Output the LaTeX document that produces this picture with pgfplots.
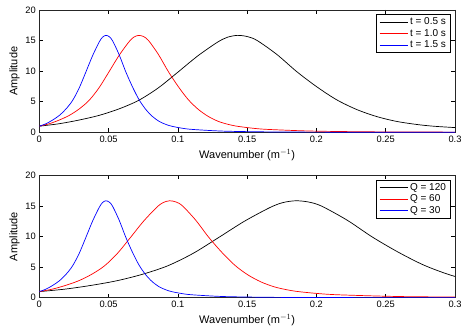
\documentclass[border=0pt]{standalone}
\usepackage{fontspec}
\setmainfont{Liberation Sans}
\usepackage{pgfplots}
\pgfplotsset{compat=1.18}
\begin{document}
\begin{tikzpicture}
\pgfplotsset{
 myax/.style={
  scale only axis, width=415.7pt, height=122.3pt,
  xmin=0, xmax=0.3, ymin=0, ymax=20,
  xtick={0,0.05,0.1,0.15,0.2,0.25,0.3},
  xticklabels={0,0.05,0.1,0.15,0.2,0.25,0.3},
  ytick={0,5,10,15,20},
  tick align=inside, major tick length=4pt,
  axis line style={line width=0.8pt, black!85},
  every tick/.style={black, line width=0.6pt},
  tick label style={font=\fontsize{9.3}{10}\selectfont},
  /pgf/number format/assume math mode=true,
  label style={font=\fontsize{11}{12}\selectfont},
  xlabel={Wavenumber (m$^{-1}$)}, ylabel={Amplitude},
  ylabel style={yshift=-1pt},
  legend style={at={(0.99,0.965)}, anchor=north east, font=\fontsize{10}{11}\selectfont,
    line width=0.9pt, inner xsep=2.5pt, inner ysep=1.2pt, row sep=-1pt},
  legend cell align=left,
  legend image code/.code={\draw[line width=1pt, ##1] (0pt,0pt) -- (28pt,0pt);},
 }
}
\begin{axis}[myax, name=top]
\addplot[draw=black, line width=0.7pt, smooth] coordinates {
(0,1.00) (0.0143,1.40) (0.0286,2.00) (0.0429,2.75) (0.0572,3.80) (0.0715,5.20)
(0.0858,7.25) (0.1001,9.85) (0.1144,12.50) (0.1287,14.75) (0.1359,15.55) (0.1430,15.85)
(0.1502,15.65) (0.1573,15.00) (0.1716,12.70) (0.1859,9.90) (0.2002,7.45) (0.2145,5.33)
(0.2288,3.75) (0.2431,2.60) (0.2574,1.80) (0.2717,1.30) (0.2860,0.97) (0.3146,0.58)};
\addlegendentry{t = 0.5 s}
\addplot[draw=red, line width=0.7pt, smooth] coordinates {
(0,1.00) (0.00717,1.40) (0.01434,2.00) (0.02151,2.75) (0.02868,3.80) (0.03585,5.20)
(0.04302,7.25) (0.05019,9.85) (0.05736,12.50) (0.06453,14.75) (0.06812,15.55) (0.0717,15.85)
(0.07529,15.65) (0.07887,15.00) (0.08604,12.70) (0.09321,9.90) (0.10038,7.45) (0.10755,5.33)
(0.11472,3.75) (0.12189,2.60) (0.12906,1.80) (0.13623,1.30) (0.1434,0.97) (0.15774,0.58)
(0.17208,0.40) (0.20076,0.18) (0.25095,0.06) (0.32265,0.02)};
\addlegendentry{t = 1.0 s}
\addplot[draw=blue, line width=0.7pt, smooth] coordinates {
(0,1.00) (0.0048,1.40) (0.0096,2.00) (0.0144,2.75) (0.0192,3.80) (0.0240,5.20)
(0.0288,7.25) (0.0336,9.85) (0.0384,12.50) (0.0432,14.75) (0.0456,15.55) (0.0480,15.85)
(0.0504,15.65) (0.0528,15.00) (0.0576,12.70) (0.0624,9.90) (0.0672,7.45) (0.0720,5.33)
(0.0768,3.75) (0.0816,2.60) (0.0864,1.80) (0.0912,1.30) (0.0960,0.97) (0.1056,0.58)
(0.1152,0.40) (0.1344,0.18) (0.1680,0.06) (0.2160,0.02) (0.3120,0.00)};
\addlegendentry{t = 1.5 s}
\end{axis}
\begin{axis}[myax, at={(0,-165.4pt)}, anchor=south west]
\addplot[draw=black, line width=0.7pt, smooth] coordinates {
(0,1.00) (0.0185,1.40) (0.0370,2.00) (0.0555,2.75) (0.0740,3.80) (0.0925,5.20)
(0.1110,7.25) (0.1295,9.85) (0.1480,12.50) (0.1665,14.75) (0.17575,15.55) (0.1850,15.85)
(0.19425,15.65) (0.2035,15.00) (0.2220,12.70) (0.2405,9.90) (0.2590,7.45) (0.2775,5.33)
(0.2960,3.75) (0.3145,2.60)};
\addlegendentry{Q = 120}
\addplot[draw=red, line width=0.7pt, smooth] coordinates {
(0,1.00) (0.0094,1.40) (0.0188,2.00) (0.0282,2.75) (0.0376,3.80) (0.0470,5.20)
(0.0564,7.25) (0.0658,9.85) (0.0752,12.50) (0.0846,14.75) (0.0893,15.55) (0.0940,15.85)
(0.0987,15.65) (0.1034,15.00) (0.1128,12.70) (0.1222,9.90) (0.1316,7.45) (0.1410,5.33)
(0.1504,3.75) (0.1598,2.60) (0.1692,1.80) (0.1786,1.30) (0.1880,0.97) (0.2068,0.58)
(0.2256,0.40) (0.2632,0.18) (0.3290,0.06)};
\addlegendentry{Q = 60}
\addplot[draw=blue, line width=0.7pt, smooth] coordinates {
(0,1.00) (0.0048,1.40) (0.0096,2.00) (0.0144,2.75) (0.0192,3.80) (0.0240,5.20)
(0.0288,7.25) (0.0336,9.85) (0.0384,12.50) (0.0432,14.75) (0.0456,15.55) (0.0480,15.85)
(0.0504,15.65) (0.0528,15.00) (0.0576,12.70) (0.0624,9.90) (0.0672,7.45) (0.0720,5.33)
(0.0768,3.75) (0.0816,2.60) (0.0864,1.80) (0.0912,1.30) (0.0960,0.97) (0.1056,0.58)
(0.1152,0.40) (0.1344,0.18) (0.1680,0.06) (0.2160,0.02) (0.3120,0.00)};
\addlegendentry{Q = 30}
\end{axis}
\pgfresetboundingbox
\path[use as bounding box] (-39.3pt,-196.7pt) rectangle (423.7pt,132.3pt);
\end{tikzpicture}
\end{document}
